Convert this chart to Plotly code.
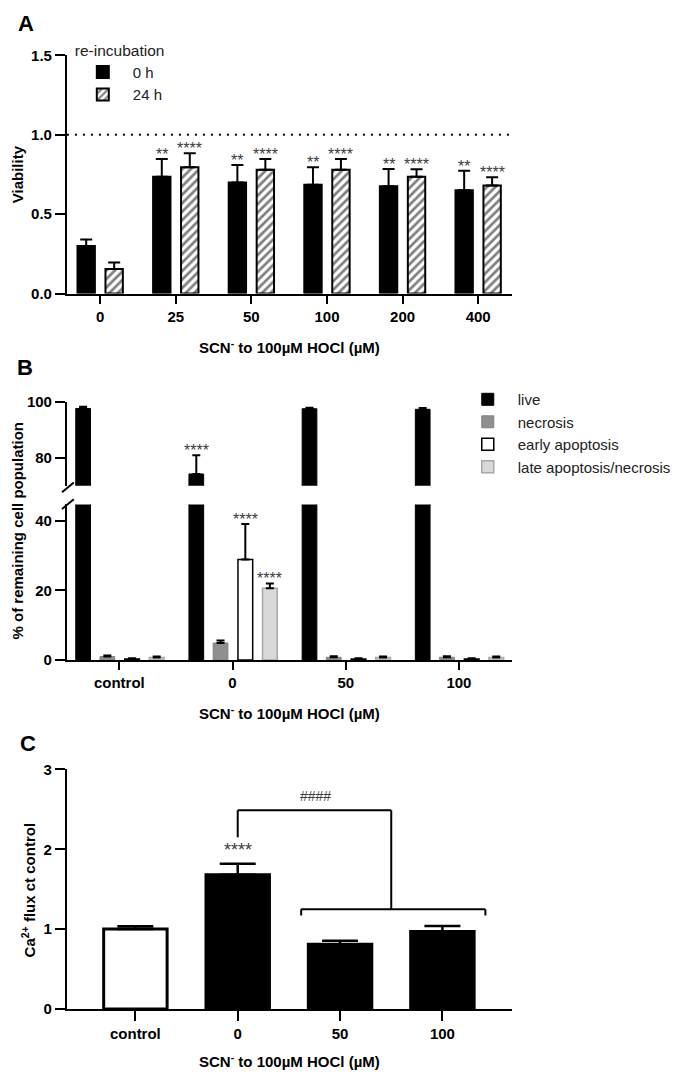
import plotly.graph_objects as go

# the page keeps the browser's 8px body margin, so the figure is sized to fit inside it
PAGE_W, PAGE_H, PAD = 684, 1080, 8
W, H = PAGE_W - 2 * PAD, PAGE_H - 2 * PAD
FONT = 'Arial, "Liberation Sans", sans-serif'

# ---- panel A: viability after re-incubation
a_doses = ['0', '25', '50', '100', '200', '400']
a_0h = [0.30, 0.735, 0.70, 0.685, 0.675, 0.65]
a_0h_sd = [0.04, 0.113, 0.11, 0.11, 0.11, 0.123]
a_24h = [0.155, 0.796, 0.78, 0.78, 0.735, 0.681]
a_24h_sd = [0.04, 0.087, 0.068, 0.068, 0.047, 0.052]
a_0h_sig = ['', '**', '**', '**', '**', '**']
a_24h_sig = ['', '****', '****', '****', '****', '****']
a_reference = 1.0

# ---- panel B: cell populations
b_groups = ['control', '0', '50', '100']
b_live = [97.7, 74.2, 97.6, 97.4]
b_live_sd = [0.6, 6.7, 0.4, 0.5]
b_necrosis = [1.0, 4.9, 0.8, 0.8]
b_necrosis_sd = [0.3, 0.7, 0.3, 0.3]
b_early = [0.3, 28.9, 0.3, 0.3]
b_early_sd = [0.2, 10.2, 0.2, 0.2]
b_late = [0.7, 20.6, 0.7, 0.7]
b_late_sd = [0.3, 1.4, 0.3, 0.3]
b_live_sig = ['', '****', '', '']
b_early_sig = ['', '****', '', '']
b_late_sig = ['', '****', '', '']

# ---- panel C: Ca2+ flux
c_groups = ['control', '0', '50', '100']
c_flux = [1.0, 1.68, 0.81, 0.97]
c_flux_sd = [0.035, 0.14, 0.045, 0.07]
c_sig = ['', '****', '', '']
c_compare_sig = '####'


def px(x):
    # page pixel -> paper fraction
    return (x - PAD) / W


def py(y):
    return 1 - (y - PAD) / H


def err(sd, w, t=2):
    return dict(type='data', array=sd, arrayminus=[0] * len(sd), symmetric=False,
                color='black', thickness=t, width=w)


fig = go.Figure()

# panel A bars
fig.add_bar(x=a_doses, y=a_0h, name='0 h', offset=-0.30, width=0.23,
            marker=dict(color='black', line=dict(color='black', width=2)),
            error_y=err(a_0h_sd, 6), xaxis='x', yaxis='y', legend='legend')
fig.add_bar(x=a_doses, y=a_24h, name='24 h', offset=0.07, width=0.23,
            marker=dict(color='white', line=dict(color='black', width=2),
                        pattern=dict(shape='/', fgcolor='black', bgcolor='white', size=6, solidity=0.45)),
            error_y=err(a_24h_sd, 6), xaxis='x', yaxis='y', legend='legend')

# panel B bars (drawn on lower and upper segment of the broken axis)
b_slots = [-0.32, -0.106, 0.113, 0.33]
bw = 0.13
b_series = [
    ('live', b_live, b_live_sd, 'black', 'black', 1),
    ('necrosis', b_necrosis, b_necrosis_sd, '#8f8f8f', '#808080', 1),
    ('early apoptosis', b_early, b_early_sd, 'white', 'black', 1.5),
    ('late apoptosis/necrosis', b_late, b_late_sd, '#d9d9d9', '#a8a8a8', 1.5),
]
for i, (name, vals, sd, fill, edge, lw) in enumerate(b_series):
    for yax, show in (('y2', True), ('y3', False)):
        fig.add_bar(x=b_groups, y=vals, name=name, offset=b_slots[i] - bw / 2, width=bw,
                    marker=dict(color=fill, line=dict(color=edge, width=lw)),
                    error_y=err(sd, 4), xaxis='x2', yaxis=yax,
                    legend='legend2', showlegend=show)

# panel C bars
fig.add_bar(x=c_groups, y=c_flux, offset=-0.31, width=0.62, showlegend=False,
            marker=dict(color=['white', 'black', 'black', 'black'], line=dict(color='black', width=3)),
            error_y=err(c_flux_sd, 18, 2.5), xaxis='x3', yaxis='y4')

axis = dict(showline=True, linecolor='black', linewidth=2, ticks='outside', tickwidth=2,
            tickcolor='black', showgrid=False, zeroline=False, fixedrange=True,
            tickfont=dict(family=FONT, size=15, color='black', weight='bold'))

xdom = [px(68), px(521)]
fig.update_layout(
    width=W, height=H, margin=dict(l=0, r=0, t=0, b=0),
    paper_bgcolor='white', plot_bgcolor='white', barmode='overlay',
    font=dict(family=FONT, color='black'),
    xaxis=dict(axis, domain=xdom, anchor='y', type='category', range=[-0.44, 5.445], ticklen=8),
    yaxis=dict(axis, domain=[py(289), py(47)], anchor='x', range=[0, 1.5], dtick=0.5,
               tickformat='.1f', ticklen=10),
    xaxis2=dict(axis, domain=xdom, anchor='y2', type='category', range=[-0.463, 3.467], ticklen=8),
    yaxis2=dict(axis, domain=[py(661.5), py(503.3)], anchor='x2', range=[0, 44.7],
                tickvals=[0, 20, 40], ticklen=10),
    yaxis3=dict(axis, domain=[py(484.3), py(399.3)], anchor='x2', range=[70, 100],
                tickvals=[80, 100], ticklen=10),
    xaxis3=dict(axis, domain=xdom, anchor='y4', type='category', range=[-0.669, 3.678], ticklen=10),
    yaxis4=dict(axis, domain=[py(1016), py(772.7)], anchor='x3', range=[0, 3], dtick=1, ticklen=10),
    legend=dict(x=px(74), y=py(27), xanchor='left', yanchor='top', bgcolor='rgba(0,0,0,0)',
                title=dict(text='re-incubation', font=dict(size=15.5)),
                font=dict(size=15, color='#222'), itemwidth=50, tracegroupgap=0),
    legend2=dict(x=px(466), y=py(380), xanchor='left', yanchor='top', bgcolor='rgba(0,0,0,0)',
                 font=dict(size=15, color='#222'), itemwidth=50, tracegroupgap=0),
)

# reference line at viability 1.0
fig.add_shape(type='line', xref='x domain', x0=0, x1=1, yref='y', y0=a_reference, y1=a_reference,
              line=dict(color='black', width=2, dash='2px,6px'))

# axis break slashes
for y0, y1 in ((491, 481), (508, 498)):
    fig.add_shape(type='line', xref='paper', yref='paper', x0=px(63), x1=px(75), y0=py(y0), y1=py(y1),
                  line=dict(color='black', width=2))


def stars(xa, ya, ys, labels, shift, size=16):
    for i, lab in enumerate(labels):
        if lab:
            fig.add_annotation(xref=xa, yref=ya, x=i + shift, y=ys[i], text=lab, showarrow=False,
                               yanchor='bottom', yshift=-6,
                               font=dict(family=FONT, size=size, color='#3c3c3c'))


stars('x', 'y', [v + e for v, e in zip(a_0h, a_0h_sd)], a_0h_sig, -0.185)
stars('x', 'y', [v + e for v, e in zip(a_24h, a_24h_sd)], a_24h_sig, 0.185)
stars('x2', 'y3', [v + e for v, e in zip(b_live, b_live_sd)], b_live_sig, b_slots[0])
stars('x2', 'y2', [v + e for v, e in zip(b_early, b_early_sd)], b_early_sig, b_slots[2])
stars('x2', 'y2', [v + e for v, e in zip(b_late, b_late_sd)], b_late_sig, b_slots[3])
stars('x3', 'y4', [v + e + 0.1 for v, e in zip(c_flux, c_flux_sd)], c_sig, 0, 18)

# comparison bracket in panel C
top, low = 2.49, 1.25
for x0, y0, x1, y1 in ((1, 2.15, 1, top), (1, top, 2.5, top), (2.5, top, 2.5, low),
                       (1.62, low, 3.42, low), (1.62, low, 1.62, 1.17), (3.42, low, 3.42, 1.17)):
    fig.add_shape(type='line', xref='x3', yref='y4', x0=x0, y0=y0, x1=x1, y1=y1,
                  line=dict(color='black', width=2))
fig.add_annotation(xref='x3', yref='y4', x=1.76, y=top, text=c_compare_sig, showarrow=False,
                   yanchor='middle', yshift=14, font=dict(family=FONT, size=14, color='#3c3c3c'))

# panel letters, axis titles
bold = dict(family=FONT, size=15, color='black', weight='bold')
xtitle = 'SCN<sup>-</sup> to 100µM HOCl (µM)'
texts = [
    ('A', 26, 15, 0, dict(bold, size=22)),
    ('B', 25, 364, 0, dict(bold, size=22)),
    ('C', 28, 746, 0, dict(bold, size=22)),
    ('Viability', 18, 168, -90, bold),
    ('% of remaining cell population', 18, 530, -90, bold),
    ('Ca<sup>2+</sup> flux ct control', 29, 895, -90, bold),
    (xtitle, 295, 343, 0, bold),
    (xtitle, 295, 715, 0, bold),
    (xtitle, 295, 1068, 0, bold),
]
for t, x, y, ang, f in texts:
    fig.add_annotation(xref='paper', yref='paper', x=px(x), y=py(y), text=t, showarrow=False,
                       textangle=ang, xanchor='center', yanchor='middle', borderpad=0, font=f)

fig.write_html('out.html')
